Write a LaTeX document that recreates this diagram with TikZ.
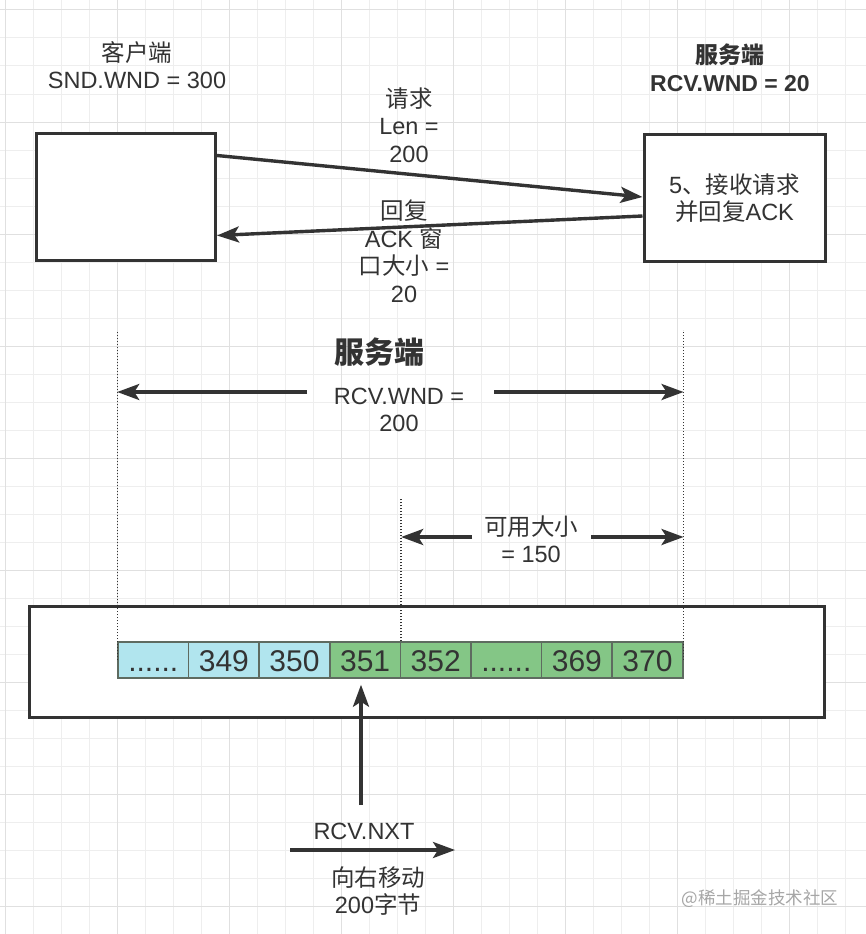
\documentclass[tikz,border=0pt]{standalone}
\usepackage{fontspec}
\setmainfont{Liberation Sans}
\newfontfamily\cjk{Noto Sans CJK SC}
\usetikzlibrary{arrows.meta, positioning, calc}
\definecolor{ink}{HTML}{333333}
\definecolor{gridminor}{HTML}{EEEEEE}
\definecolor{gridmajor}{HTML}{E0E0E0}
\definecolor{cellcyan}{HTML}{B1E5EE}
\definecolor{cellgreen}{HTML}{84C686}
\definecolor{cellline}{HTML}{5E6B60}
\newcommand{\zh}[1]{{\cjk #1}}
\newcommand{\celldots}{......}

\begin{document}
\begin{tikzpicture}[x=1pt, y=-1pt, ink,
	arr/.style={-{Stealth[length=22pt, width=16pt, inset=5pt]}, line width=3.4pt},
	box/.style={draw, line width=3pt, fill=white, inner sep=0pt},
	cell/.style={draw=cellline, line width=1.5pt, minimum width=70.6pt, minimum height=36pt,
		inner sep=0pt, text height=23pt, text depth=0pt, font=\fontsize{30}{32}\selectfont},
	txt/.style={align=center, font=\fontsize{23.5}{27.5}\selectfont},
	bold/.style={align=center, font=\bfseries\fontsize{23}{27.5}\selectfont},
	guide/.style={line width=1.4pt, dash pattern=on 1.4pt off 1.6pt}]

	% background grid
	\useasboundingbox (0,0) rectangle (866,934);
	\fill[white] (0,0) rectangle (866,934);
	\foreach \gx in {5,33,...,866} \draw[gridminor, line width=1pt] (\gx,0) -- (\gx,934);
	\foreach \gy in {10,38,...,934} \draw[gridminor, line width=1pt] (0,\gy) -- (866,\gy);
	\foreach \gx in {5,117,...,866} \draw[gridmajor, line width=1pt] (\gx,0) -- (\gx,934);
	\foreach \gy in {10,122,...,934} \draw[gridmajor, line width=1pt] (0,\gy) -- (866,\gy);

	% client / server
	\node[txt]  (cliLab) at (137,65)	{\zh{客户端}\\SND.WND = 300};
	\node[bold] (srvLab) at (730,68)	{\zh{服务端}\\RCV.WND = 20};
	\node[box, minimum width=179pt, minimum height=127pt] (cli) at (126,196.5) {};
	\node[box, txt, minimum width=181pt, minimum height=127pt] (srv) at (734.5,198)
		{5\zh{、接收请求}\\\zh{并回复}ACK};

	\draw[arr] ($(cli.north east)+(0,24)$) -- ($(srv.north west)+(0,64)$);
	\draw[arr] ($(srv.north west)+(0,83)$) -- ($(cli.north east)+(0,104)$);
	\node[txt] (reqLab) at (409,125)	{\zh{请求}\\Len =\\200};
	\node[txt] (ackLab) at (404,251)	{\zh{回复}\\ACK \zh{窗}\\\zh{口大小} =\\20};

	% receive buffer
	\node[box, minimum width=795pt, minimum height=111pt] (buf) at (426.5,661.5) {};
	\foreach \lab/\fillc [count=\i] in {\celldots/cellcyan, 349/cellcyan, 350/cellcyan,
		351/cellgreen, 352/cellgreen, \celldots/cellgreen, 369/cellgreen, 370/cellgreen}
		\node[cell, fill=\fillc] (c\i) at ({82.7+70.6*\i},660) {\lab};

	\draw[guide] (c1.west) -- ++(0,-328);
	\draw[guide] (c8.east) -- ++(0,-330);
	\draw[guide] (c4.north east) -- ++(0,-142);

	% window
	\node[font=\bfseries\fontsize{30}{32}\selectfont] (winTitle) at (379,352) {\zh{服务端}};
	\node[txt] (wndLab) at (399,410)	{RCV.WND =\\200};
	\coordinate (wndL) at (307,392);
	\coordinate (wndR) at (494,392);
	\draw[arr] (wndL) -- (c1.west |- wndL);
	\draw[arr] (wndR) -- (c8.east |- wndR);

	\node[txt] (availLab) at (531,539)	{\zh{可用大小}\\= 150};
	\coordinate (avL) at (472,537);
	\coordinate (avR) at (591,537);
	\draw[arr] (avL) -- (c4.east |- avL);
	\draw[arr] (avR) -- (c8.east |- avR);

	% next pointer
	\node[txt] (nxtLab) at (364,831)	{RCV.NXT};
	\coordinate (nxtTop) at (361,805);
	\draw[arr, shorten >=6pt] (nxtTop) -- (nxtTop |- c4.south);
	\coordinate (mvL) at (290,850);
	\draw[arr] (mvL) -- ++(165,0);
	\node[txt] (mvLab) at (378,891)	{\zh{向右移动}\\200\zh{字节}};

	\node[font=\cjk\fontsize{17.5}{20}\selectfont, text=black!35, anchor=east] (mark) at (842,899)
		{@稀土掘金技术社区};
\end{tikzpicture}
\end{document}
